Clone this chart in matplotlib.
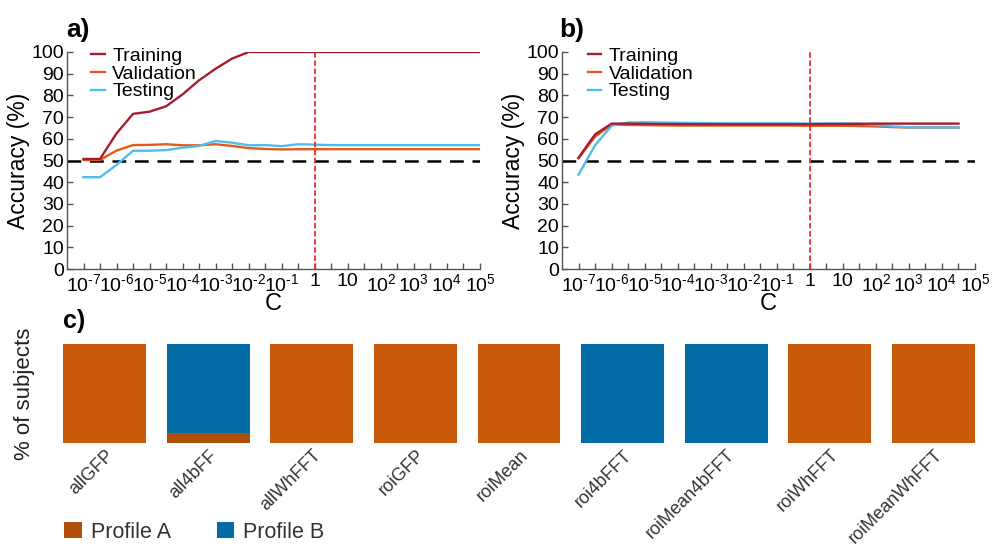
import matplotlib
matplotlib.use("Agg")
import matplotlib.pyplot as plt
from matplotlib.patches import Patch
import numpy as np

plt.rcParams['font.family'] = ['Liberation Sans', 'DejaVu Sans']
plt.rcParams['mathtext.fontset'] = 'custom'
plt.rcParams['mathtext.rm'] = 'Liberation Sans'

# ---- data ----
# log10(C) positions (half-decade steps)
logC_a = [-7, -6.5, -6, -5.5, -5, -4.5, -4, -3.5, -3, -2.5, -2, -1.5, -1,
          -0.5, 0, 0.5, 1, 1.5, 2, 2.5, 3, 3.5, 4, 4.5, 5]
train_a = [50.7, 50.7, 62.5, 71.5, 72.5, 75, 80.5, 87, 92.3, 97, 100, 100, 100,
           100, 100, 100, 100, 100, 100, 100, 100, 100, 100, 100, 100]
valid_a = [50.2, 50.2, 54.6, 57.1, 57.2, 57.5, 57.0, 57.0, 57.5, 56.7, 55.7, 55.3, 55.1,
           55.2, 55.2, 55.2, 55.2, 55.2, 55.2, 55.2, 55.2, 55.2, 55.2, 55.2, 55.2]
test_a = [42.3, 42.3, 48.0, 54.5, 54.5, 54.8, 55.9, 56.7, 59.0, 58.2, 57.0, 57.1, 56.6,
          57.5, 57.3, 57.1, 57.1, 57.1, 57.1, 57.1, 57.1, 57.1, 57.1, 57.1, 57.1]

logC_b = [-7, -6.5, -6, -5.5, -5, -4.5, -4, -3.5, -3, -2.5, -2, -1.5, -1,
          -0.5, 0, 0.5, 1, 1.5, 2, 2.5, 3, 3.5, 4, 4.5]
train_b = [51.3, 62.0, 67.0, 67.0, 66.9, 66.8, 66.8, 66.7, 66.7, 66.7, 66.7, 66.7,
           66.7, 66.7, 66.7, 66.8, 66.8, 66.9, 67.0, 67.0, 67.0, 67.0, 67.0, 67.0]
valid_b = [51.0, 61.0, 66.5, 66.4, 66.3, 66.2, 66.1, 66.1, 66.1, 66.1, 66.1, 66.1,
           66.1, 66.1, 66.0, 66.0, 66.0, 65.9, 65.7, 65.4, 65.2, 65.2, 65.2, 65.2]
test_b = [43.5, 57.0, 66.0, 67.5, 67.6, 67.5, 67.4, 67.3, 67.2, 67.1, 67.1, 67.1,
          67.1, 67.1, 67.1, 67.1, 67.1, 67.0, 66.4, 65.7, 65.3, 65.2, 65.2, 65.2]

chance = 50
selected_logC = 0

decades = [-7, -6, -5, -4, -3, -2, -1, 0, 1, 2, 3, 4, 5]
decade_labels = [r'$\mathregular{10^{\text{-}7}}$', r'$\mathregular{10^{\text{-}6}}$',
                 r'$\mathregular{10^{\text{-}5}}$', r'$\mathregular{10^{\text{-}4}}$',
                 r'$\mathregular{10^{\text{-}3}}$', r'$\mathregular{10^{\text{-}2}}$',
                 r'$\mathregular{10^{\text{-}1}}$', '1', '10', r'$\mathregular{10^{2}}$',
                 r'$\mathregular{10^{3}}$', r'$\mathregular{10^{4}}$', r'$\mathregular{10^{5}}$']

features = ['allGFP', 'all4bFF', 'allWhFFT', 'roiGFP', 'roiMean', 'roi4bFFT',
            'roiMean4bFFT', 'roiWhFFT', 'roiMeanWhFFT']
profile_a = [100, 10, 100, 100, 100, 0, 0, 100, 100]
profile_b = [0, 90, 0, 0, 0, 100, 100, 0, 0]

C_TRAIN = '#a81c30'
C_VALID = '#e05a1c'
C_TEST = '#4fbdec'
C_RED = '#ec2a2f'
C_A_BAR = '#c85a0a'
C_A_DARK = '#b04f0a'
C_B = '#036ba5'

fig = plt.figure(figsize=(9.94, 5.47), dpi=100)

W, H = 994, 547
def ax_rect(l, r, t, b):
    return [l / W, 1 - b / H, (r - l) / W, (b - t) / H]

def style_acc(ax, x, tr, va, te, legx):
    xs = [10.0 ** v for v in x]
    ax.plot(xs, tr, color=C_TRAIN, lw=1.7, label='Training', zorder=4)
    ax.plot(xs, va, color=C_VALID, lw=1.7, label='Validation', zorder=3)
    ax.plot(xs, te, color=C_TEST, lw=1.7, label='Testing', zorder=3)
    ax.axhline(chance, color='black', lw=1.8, dashes=(5.5, 3.5), zorder=2)
    ax.plot([10.0 ** selected_logC] * 2, [0, 100], color=C_RED, lw=1.3,
            dashes=(3, 1.5), zorder=5)
    ax.set_xscale('log')
    ax.set_xlim(10 ** -7.5, 10 ** 5)
    ax.set_ylim(0, 100)
    ax.set_xticks([10.0 ** d for d in decades])
    ax.set_xticklabels(decade_labels)
    ax.set_xticks([10.0 ** (d + 0.5) for d in decades[:-1]], minor=True)
    ax.xaxis.set_minor_formatter(matplotlib.ticker.NullFormatter())
    ax.set_yticks(range(0, 101, 10))
    ax.tick_params(axis='both', which='both', direction='in', length=4,
                   width=1, color='#555555', labelsize=14, pad=2)
    ax.tick_params(axis='x', which='major', pad=3)
    for s in ['top', 'right']:
        ax.spines[s].set_visible(False)
    for s in ['left', 'bottom']:
        ax.spines[s].set_color('#555555')
        ax.spines[s].set_linewidth(1)
    ax.set_xlabel('C', fontsize=17, labelpad=-1.5)
    ax.set_ylabel('Accuracy (%)', fontsize=16.5, labelpad=1)
    ax.legend(loc='upper left', bbox_to_anchor=(legx, 1.02), frameon=False,
              fontsize=14, handlelength=0.7, handletextpad=0.4,
              labelspacing=0.0, borderaxespad=0, borderpad=0)
    return ax

ax_a = fig.add_axes(ax_rect(67, 480, 52, 269))
style_acc(ax_a, logC_a, train_a, valid_a, test_a, 0.058)
ax_b = fig.add_axes(ax_rect(562, 975, 52, 269))
style_acc(ax_b, logC_b, train_b, valid_b, test_b, 0.062)

fig.text(66 / W, 1 - 30 / H, 'a)', fontsize=19, fontweight='bold', va='center', ha='left')
fig.text(559 / W, 1 - 30 / H, 'b)', fontsize=19, fontweight='bold', va='center', ha='left')
fig.text(63 / W, 1 - 321 / H, 'c)', fontsize=18, fontweight='bold', va='center', ha='left')

# ---- panel c ----
ax_c = fig.add_axes(ax_rect(63, 975, 344, 443))
xpos = np.arange(len(features))
colors_a = [C_A_DARK if (pa > 0 and pb > 0) else C_A_BAR for pa, pb in zip(profile_a, profile_b)]
ax_c.bar(xpos, profile_a, width=0.8, color=colors_a, linewidth=0)
ax_c.bar(xpos, profile_b, width=0.8, bottom=profile_a, color=C_B, linewidth=0)
ax_c.set_xlim(-0.4, len(features) - 0.6)
ax_c.set_ylim(0, 100)
for s in ax_c.spines.values():
    s.set_visible(False)
ax_c.set_yticks([])
ax_c.set_xticks(xpos + 0.06)
ax_c.set_xticklabels(features, rotation=45, ha='right', va='center',
                     rotation_mode='anchor', fontsize=13, color='#333333')
ax_c.tick_params(axis='x', length=0, pad=7)
ax_c.set_ylabel('% of subjects', fontsize=16, color='#222222', labelpad=20)

handles = [Patch(facecolor=C_A_DARK, edgecolor='none', label='Profile A'),
           Patch(facecolor=C_B, edgecolor='none', label='Profile B')]
fig.legend(handles=handles, loc='lower left', bbox_to_anchor=(60 / W, 0.0),
           ncol=2, frameon=False, fontsize=15.5, handlelength=0.8, handleheight=0.8,
           handletextpad=0.45, columnspacing=2.1, borderaxespad=0.1, borderpad=0.1,
           labelcolor='#333333')

fig.savefig('out.png', dpi=100)
